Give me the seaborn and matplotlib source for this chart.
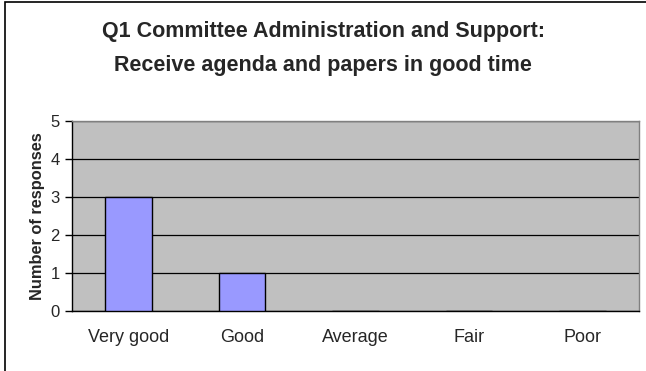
import matplotlib
matplotlib.use("Agg")
import matplotlib.pyplot as plt
import seaborn as sns
import pandas as pd
from matplotlib.patches import Rectangle

categories = ["Very good", "Good", "Average", "Fair", "Poor"]
responses = [3, 1, 0, 0, 0]
y_ticks = [0, 1, 2, 3, 4, 5]

sns.set_style("white")
plt.rcParams["font.family"] = ["Liberation Sans", "DejaVu Sans"]

df = pd.DataFrame({"rating": categories, "count": responses})

fig = plt.figure(figsize=(6.46, 3.71), dpi=100)
ax = fig.add_axes([72 / 646, 1 - 311 / 371, (639 - 72) / 646, (311 - 121) / 371])
ax.set_facecolor("#C0C0C0")

sns.barplot(data=df, x="rating", y="count", order=categories, color="#9999FF",
            edgecolor="black", linewidth=1.0, width=0.41, saturation=1, ax=ax, zorder=3)

ax.set_ylim(0, 5)
ax.set_xlim(-0.5, len(categories) - 0.5)
ax.set_yticks(y_ticks)
ax.set_yticklabels([str(v) for v in y_ticks], fontsize=12)
ax.yaxis.grid(True, color="black", linewidth=0.9, zorder=1)
ax.set_axisbelow(True)

ax.set_xticks(range(len(categories)))
ax.set_xticklabels(categories, fontsize=13)
ax.set_xticks([i - 0.5 for i in range(len(categories) + 1)], minor=True)
ax.tick_params(axis="x", which="major", length=0, pad=13)
ax.tick_params(axis="x", which="minor", length=5, width=1, color="black", direction="out")
ax.tick_params(axis="y", length=5, width=1, color="black", direction="out", pad=4, left=True)

ax.set_xlabel("")
ax.set_ylabel("Number of responses", fontsize=11.8, fontweight="bold", labelpad=4)

for side in ["top", "right"]:
    ax.spines[side].set_color("#808080")
    ax.spines[side].set_linewidth(1.0)
for side in ["left", "bottom"]:
    ax.spines[side].set_color("black")
    ax.spines[side].set_linewidth(1.0)

fig.text(0.5, 1 - 32 / 371, "Q1 Committee Administration and Support:",
         ha="center", va="center", fontsize=15.5, fontweight="bold")
fig.text(0.5, 1 - 66 / 371, "Receive agenda and papers in good time",
         ha="center", va="center", fontsize=15.5, fontweight="bold")

# chart frame
fig.patches.append(Rectangle((5 / 646, -0.2), 1.2, 1.2 - 2 / 371,
                             transform=fig.transFigure, fill=False,
                             edgecolor="black", linewidth=1.2))

fig.savefig("out.png", dpi=100)
